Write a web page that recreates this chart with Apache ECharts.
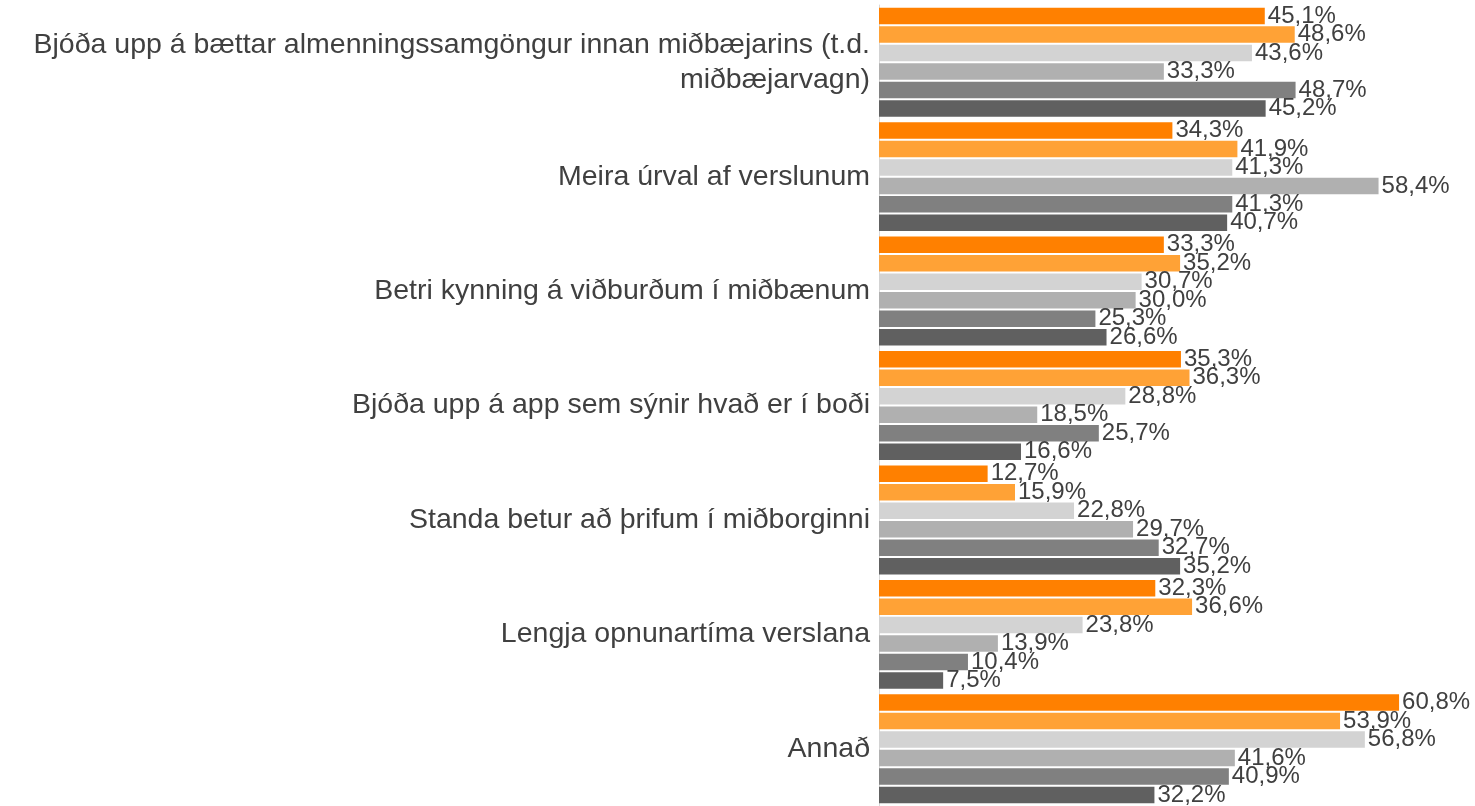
<!DOCTYPE html>
<html>
<head>
<meta charset="utf-8">
<script src="https://cdn.jsdelivr.net/npm/echarts@6/dist/echarts.min.js"></script>
<style>
  html, body { margin: 0; padding: 0; background: #fff; }
  #chart { width: 1475px; height: 806px; }
</style>
</head>
<body>
<div id="chart"></div>
<script>
var categories = [
    'Bjóða upp á bættar almenningssamgöngur innan miðbæjarins (t.d.\nmiðbæjarvagn)',
    'Meira úrval af verslunum',
    'Betri kynning á viðburðum í miðbænum',
    'Bjóða upp á app sem sýnir hvað er í boði',
    'Standa betur að þrifum í miðborginni',
    'Lengja opnunartíma verslana',
    'Annað'
];
var s1 = [45.1, 34.3, 33.3, 35.3, 12.7, 32.3, 60.8];
var s2 = [48.6, 41.9, 35.2, 36.3, 15.9, 36.6, 53.9];
var s3 = [43.6, 41.3, 30.7, 28.8, 22.8, 23.8, 56.8];
var s4 = [33.3, 58.4, 30.0, 18.5, 29.7, 13.9, 41.6];
var s5 = [48.7, 41.3, 25.3, 25.7, 32.7, 10.4, 40.9];
var s6 = [45.2, 40.7, 26.6, 16.6, 35.2, 7.5, 32.2];
var colors = ['#FF8000', '#FFA236', '#D3D3D3', '#B0B0B0', '#808080', '#606060'];

var font = "'Liberation Sans', Arial, sans-serif";

function makeSeries(name, data, color) {
    return {
        name: name,
        type: 'bar',
        data: data,
        barWidth: 16.5,
        barGap: '12%',
        itemStyle: { color: color },
        label: {
            show: true,
            position: 'right',
            distance: 3,
            color: '#404040',
            fontSize: 24,
            fontFamily: font,
            formatter: function (p) {
                return p.value.toFixed(1).replace('.', ',') + '%';
            }
        }
    };
}

var chart = echarts.init(document.getElementById('chart'));
var option = {
    animation: false,
    grid: { left: 879, right: 40, top: 5, height: 806 },
    xAxis: {
        type: 'value',
        min: 0,
        max: 65,
        show: false
    },
    yAxis: {
        type: 'category',
        inverse: true,
        data: categories,
        axisTick: { show: false },
        axisLine: { show: true, lineStyle: { color: '#D9D9D9', width: 1 } },
        axisLabel: {
            margin: 9,
            color: '#404040',
            fontSize: 28.5,
            fontFamily: font,
            lineHeight: 35,
            align: 'right'
        }
    },
    series: [
        makeSeries('1', s1, colors[0]),
        makeSeries('2', s2, colors[1]),
        makeSeries('3', s3, colors[2]),
        makeSeries('4', s4, colors[3]),
        makeSeries('5', s5, colors[4]),
        makeSeries('6', s6, colors[5])
    ]
};
chart.setOption(option);
</script>
</body>
</html>
